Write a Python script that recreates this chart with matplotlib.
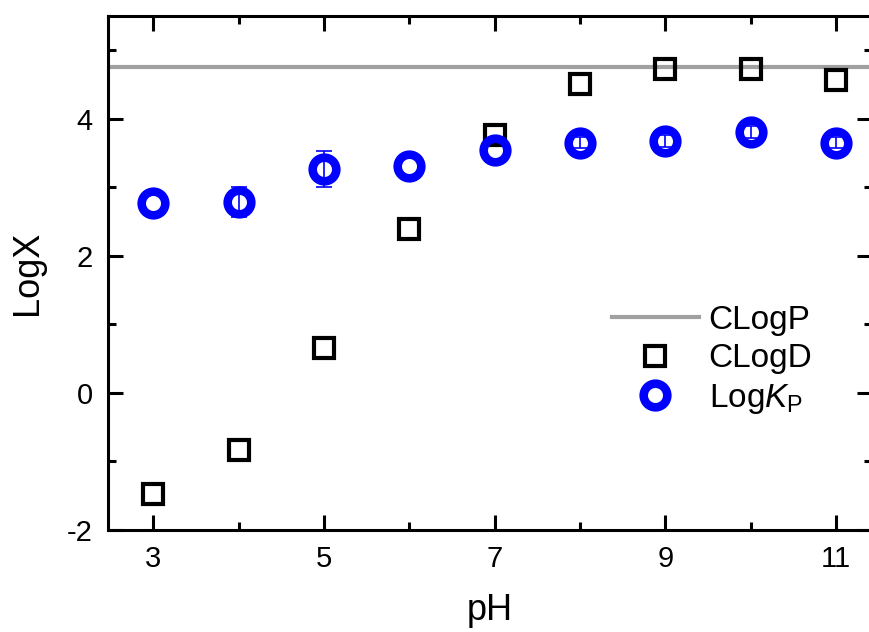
import numpy as np
import matplotlib
matplotlib.use("Agg")
import matplotlib.pyplot as plt
from matplotlib.ticker import MultipleLocator

plt.rcParams['font.family'] = ['Liberation Sans', 'DejaVu Sans']
plt.rcParams['mathtext.fontset'] = 'custom'
plt.rcParams['mathtext.rm'] = 'Liberation Sans'
plt.rcParams['mathtext.it'] = 'Liberation Sans:italic'
plt.rcParams['axes.unicode_minus'] = False

# dados
ph = [3, 4, 5, 6, 7, 8, 9, 10, 11]
clogp = 4.76
clogd = [-1.47, -0.83, 0.66, 2.39, 3.77, 4.51, 4.72, 4.72, 4.57]
logkp = [2.77, 2.78, 3.27, 3.31, 3.55, 3.65, 3.68, 3.81, 3.65]
logkp_err = [0.0, 0.22, 0.26, 0.0, 0.0, 0.08, 0.09, 0.09, 0.08]

fig = plt.figure(figsize=(8.7, 6.32), dpi=100)
ax = fig.add_axes([108 / 870, 1 - 530 / 632, (872 - 108) / 870, (530 - 16) / 632])

ax.axhline(clogp, color='#a0a0a0', lw=3, label='CLogP', zorder=1)
ax.plot(ph, clogd, 's', ms=14, mfc='none', mec='black', mew=3, label='CLogD', zorder=2)
ax.plot(ph, logkp, 'o', ms=17, mfc='none', mec='blue', mew=6.2,
        label=r'Log$\mathit{K}_\mathrm{P}$', zorder=3)

# so desenha as barras de erro que aparecem
com_erro = [i for i, e in enumerate(logkp_err) if e > 0]
ax.errorbar([ph[i] for i in com_erro], [logkp[i] for i in com_erro],
            yerr=[logkp_err[i] for i in com_erro], fmt='none', ecolor='blue',
            elinewidth=1.2, capsize=6, capthick=1.2, zorder=4)

ax.set_xlim(2.47, 11.42)
ax.set_ylim(-2, 5.5)
ax.xaxis.set_minor_locator(MultipleLocator(1))
ax.yaxis.set_major_locator(MultipleLocator(2))
ax.yaxis.set_minor_locator(MultipleLocator(1))
ax.set_xticks([3, 5, 7, 9, 11])

for s in ax.spines.values():
    s.set_linewidth(2.2)
ax.tick_params(which='both', direction='in', top=True, right=True, width=2.2, labelsize=21, pad=11)
ax.tick_params(which='major', length=11)
ax.tick_params(which='minor', length=6)

ax.set_xlabel('pH', fontsize=26, labelpad=14)
ax.set_ylabel('LogX', fontsize=26, labelpad=16)

ax.legend(loc='upper left', bbox_to_anchor=(612 / 870, 1 - 305 / 632),
          bbox_transform=fig.transFigure, frameon=False, fontsize=24,
          handlelength=2.6, handletextpad=0.3, labelspacing=0.22, borderpad=0,
          borderaxespad=0)

fig.savefig('out.png', dpi=100)
